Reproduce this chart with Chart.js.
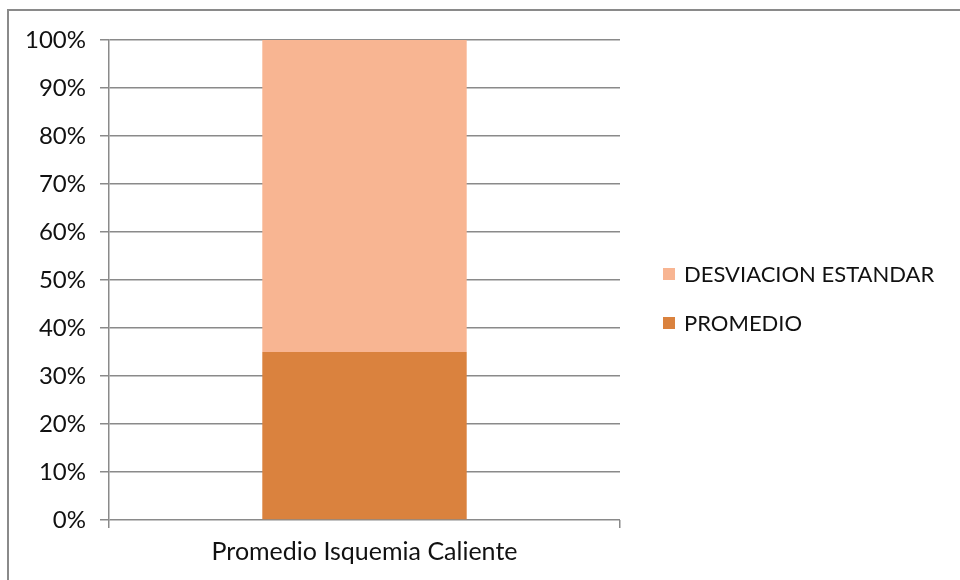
<!DOCTYPE html>
<html>
<head>
<meta charset="utf-8">
<script src="https://cdn.jsdelivr.net/npm/chart.js@4"></script>
<style>
  html, body { margin: 0; padding: 0; background: #fff; }
  #wrap { position: relative; width: 960px; height: 580px; overflow: hidden; }
  #frame {
    position: absolute; left: 7px; top: 9px; width: 1000px; height: 700px;
    border-left: 2px solid #8a8a8a; border-top: 2px solid #8a8a8a;
  }
  canvas { position: absolute; left: 0; top: 0; }
</style>
</head>
<body>
<div id="wrap">
  <div id="frame"></div>
  <canvas id="chart" width="960" height="580"></canvas>
</div>
<script>
// Categories and series (share of total, %)
const categories = ['Promedio Isquemia Caliente'];
const promedio = [35];
const desviacionEstandar = [65];
const yTicks = [0, 10, 20, 30, 40, 50, 60, 70, 80, 90, 100];

const FONT = 'Lato, "Liberation Sans", sans-serif';
const GRID = '#8a8a8a';

// Legend drawn at the right, top item = last dataset
const sideLegend = {
    id: 'sideLegend',
    afterDraw(chart) {
        const ctx = chart.ctx;
        const sets = chart.data.datasets.slice().reverse();
        ctx.save();
        ctx.font = '22px ' + FONT;
        ctx.textBaseline = 'middle';
        sets.forEach(function(ds, i) {
            const y = 274 + i * 49;
            ctx.fillStyle = ds.backgroundColor;
            ctx.fillRect(663, y - 6, 12, 12);
            ctx.fillStyle = '#111';
            ctx.fillText(ds.label, 684, y + 1);
        });
        ctx.restore();
    }
};

document.addEventListener('DOMContentLoaded', function() {
    const ctx = document.getElementById('chart').getContext('2d');
    new Chart(ctx, {
        type: 'bar',
        data: {
            labels: categories,
            datasets: [{
                label: 'PROMEDIO',
                data: promedio,
                backgroundColor: '#da823e'
            }, {
                label: 'DESVIACION ESTANDAR',
                data: desviacionEstandar,
                backgroundColor: '#f8b592'
            }]
        },
        options: {
            responsive: false,
            animation: false,
            layout: { padding: { left: 0, top: 40, right: 340, bottom: 0 } },
            datasets: { bar: { barPercentage: 0.4, categoryPercentage: 1 } },
            scales: {
                x: {
                    stacked: true,
                    afterFit: function(s) { s.height = 60; },
                    grid: {
                        offset: true,
                        drawOnChartArea: false,
                        color: GRID,
                        lineWidth: 1.5,
                        tickLength: 8
                    },
                    border: { display: false },
                    ticks: { color: '#111', padding: 9, font: { family: FONT, size: 25 } }
                },
                y: {
                    stacked: true,
                    min: 0,
                    max: 100,
                    afterFit: function(s) { s.width = 109; },
                    afterBuildTicks: function(s) { s.ticks = yTicks.map(v => ({ value: v })); },
                    grid: { color: GRID, lineWidth: 1.5, tickLength: 9 },
                    border: { color: GRID, width: 1.5 },
                    ticks: {
                        color: '#111',
                        padding: 14,
                        font: { family: FONT, size: 24 },
                        callback: v => v + '%'
                    }
                }
            },
            plugins: {
                legend: { display: false },
                tooltip: { enabled: false }
            }
        },
        plugins: [sideLegend]
    });
});
</script>
</body>
</html>
